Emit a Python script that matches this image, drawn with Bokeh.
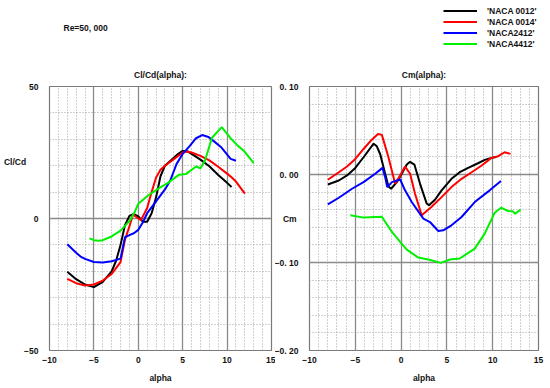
from bokeh.plotting import figure
from bokeh.layouts import row, column
from bokeh.models import FixedTicker, Label, Legend, LegendItem, Range1d
from bokeh.embed import file_html
from bokeh.resources import INLINE

# ---------------- data ----------------
series_names = ["'NACA 0012'", "'NACA 0014'", "'NACA2412'", "'NACA4412'"]
series_colors = ["#000000", "#ff0000", "#0000ff", "#00f000"]
reynolds_text = "Re=50, 000"

# Cl/Cd vs alpha
clcd_0012_alpha = [-8, -7, -6, -5, -4, -3, -2.5, -2, -1.5, -1, -0.5, 0, 0.5, 1, 1.5, 2, 2.5, 3, 3.5, 4, 4.5, 5, 5.5, 6, 7, 8, 9, 10, 10.5]
clcd_0012 = [-20.2, -23, -25, -26, -24, -20, -16, -10, -2.5, 1, 1.7, 0.8, -1.2, -1.2, 2, 8, 16, 20, 21.5, 23, 24.5, 25.6, 25.5, 24.5, 22.3, 19.8, 16.5, 13.5, 11.9]

clcd_0014_alpha = [-8, -7, -6, -5, -4, -3, -2, -1.5, -1, -0.6, 0, 0.3, 1, 1.5, 2, 2.5, 3, 4, 5, 5.5, 6, 7, 8, 9, 10, 10.5, 11, 12]
clcd_0014 = [-22.9, -24.5, -25.4, -25, -23.5, -21, -16.5, -8, -3, 1.5, 0, -0.6, 4, 10, 15.5, 18.5, 20, 22.5, 25, 25.4, 25, 23.7, 22, 19.6, 17, 15.6, 14, 9.4]

clcd_2412_alpha = [-8, -7, -6.5, -6, -5, -4, -3, -2, -1.5, -1, -0.5, 0, 0.5, 1, 2, 3, 3.6, 4.3, 5, 5.8, 6.5, 7.2, 7.9, 8.5, 9.3, 10.4, 11]
clcd_2412 = [-9.75, -13, -14.4, -15.3, -16.5, -16.7, -16.2, -15.2, -7.1, -6.3, -5.6, -4.3, -1.5, 2, 6.5, 11, 14.4, 20.6, 24.5, 27.5, 30.4, 31.6, 30.9, 29.3, 27.1, 22.6, 21.9]

clcd_4412_alpha = [-5.5, -5, -4.5, -4, -3, -2, -1, -0.4, 0, 1.1, 2.2, 3.3, 4.6, 5.4, 6.5, 7, 7.5, 8.3, 9.4, 10.5, 11.2, 11.9, 13]
clcd_4412 = [-7.5, -8.2, -8.4, -8.2, -6.8, -4.6, -1, 2.5, 5.6, 8.7, 11.2, 13.4, 16.6, 16.9, 19.7, 19, 21.9, 30.6, 34.6, 30, 27.6, 25.6, 21]

# Cm vs alpha
cm_0012_alpha = [-8.0, -6.8, -5.9, -5.0, -4.1, -3.0, -2.65, -2.28, -1.74, -1.38, -1.09, -0.47, 0.07, 0.62, 0.98, 1.45, 2.07, 2.79, 3.04, 3.7, 4.42, 5.5, 6.4, 7.32, 8.4, 9.13, 9.86, 10.4]
cm_0012 = [-0.0113, -0.0068, -0.0011, 0.0075, 0.0196, 0.035, 0.032, 0.023, 0.0008, -0.0136, -0.0162, -0.0087, 0.0008, 0.0113, 0.0144, 0.0113, -0.0106, -0.033, -0.035, -0.0287, -0.018, -0.0049, 0.0026, 0.0075, 0.0128, 0.0166, 0.0189, 0.020]

cm_0014_alpha = [-8.0, -6.8, -5.9, -5.0, -4.1, -3.2, -2.52, -2.1, -1.38, -0.65, -0.1, 0.43, 0.98, 1.52, 2.25, 3.3, 4.42, 5.5, 6.6, 7.7, 8.8, 9.86, 10.6, 11.3, 11.95]
cm_0014 = [-0.006, 0.0026, 0.0091, 0.0177, 0.029, 0.0396, 0.046, 0.045, 0.0196, -0.0106, -0.001, 0.0091, 0.0008, -0.0219, -0.0464, -0.037, -0.0257, -0.0143, -0.0049, 0.0026, 0.0102, 0.0189, 0.0208, 0.0253, 0.0234]

cm_2412_alpha = [-8.0, -6.8, -5.36, -4.1, -2.83, -2.03, -1.74, -1.52, -1.0, -0.1, 0.43, 1.16, 2.43, 3.15, 4.06, 4.6, 5.5, 6.6, 8.04, 9.67, 10.9]
cm_2412 = [-0.034, -0.0264, -0.0162, -0.0087, 0.0008, 0.0075, -0.003, -0.0143, -0.0087, -0.0057, -0.018, -0.0313, -0.0502, -0.054, -0.0642, -0.0634, -0.0577, -0.0483, -0.0313, -0.018, -0.0075]

cm_4412_alpha = [-5.54, -4.1, -2.1, -1.0, -0.1, 0.62, 1.88, 2.97, 4.35, 5.33, 6.4, 8.04, 9.13, 10.2, 10.9, 11.67, 12.2, 12.46, 13.04]
cm_4412 = [-0.0464, -0.049, -0.048, -0.0653, -0.0766, -0.0853, -0.0944, -0.0966, -0.1004, -0.0966, -0.0955, -0.0842, -0.0672, -0.0438, -0.0377, -0.0415, -0.0419, -0.0445, -0.04]

x_ticks = [-10, -5, 0, 5, 10, 15]
x_tick_labels = {-10: "\u221210", -5: "\u22125", 0: "0", 5: "5", 10: "10", 15: "15"}
clcd_ticks = [-50, 0, 50]
clcd_tick_labels = {-50: "\u221250", 0: "0", 50: "50"}
cm_ticks = [-0.2, -0.1, 0.0, 0.1]
cm_tick_labels = {-0.2: "\u22120. 20", -0.1: "\u22120. 10", 0.0: "0. 00", 0.1: "0. 10"}

FONT = "Liberation Sans"
TXT = "#111111"
HEADER_H = 52
NAN = float("nan")


def make_fig(title, ylabel, yr, yticks, yminor, ylabels, left_border, right_border,
             bottom_border, ylabel_standoff):
    p = figure(width=275, height=388 - HEADER_H, x_range=Range1d(-10, 15), y_range=Range1d(*yr),
               output_backend="svg", toolbar_location=None, title=title,
               min_border_left=left_border, min_border_right=right_border,
               min_border_top=86 - HEADER_H, min_border_bottom=bottom_border)
    p.title.align = "center"
    p.title.text_font = FONT
    p.title.text_font_size = "8.5px"
    p.title.text_font_style = "bold"
    p.title.text_color = TXT
    p.title.standoff = 13
    p.outline_line_color = "#7a7a7a"
    p.outline_line_width = 1.2
    p.xaxis.ticker = FixedTicker(ticks=x_ticks, minor_ticks=list(range(-10, 16)))
    p.yaxis.ticker = FixedTicker(ticks=yticks, minor_ticks=yminor)
    p.xaxis.major_label_overrides = x_tick_labels
    p.yaxis.major_label_overrides = ylabels
    for ax in (p.xaxis, p.yaxis):
        ax.axis_line_color = None
        ax.major_tick_line_color = None
        ax.minor_tick_line_color = None
        ax.major_label_text_font = FONT
        ax.major_label_text_font_size = "8.5px"
        ax.major_label_text_font_style = "bold"
        ax.major_label_text_color = TXT
        ax.axis_label_text_font = FONT
        ax.axis_label_text_font_size = "8.5px"
        ax.axis_label_text_font_style = "bold"
        ax.axis_label_text_color = TXT
    p.xaxis.major_label_standoff = 0
    p.yaxis.major_label_standoff = 5
    p.xaxis.axis_label = "alpha"
    p.xaxis.axis_label_standoff = 7
    p.yaxis.axis_label = ylabel
    p.yaxis.axis_label_orientation = "horizontal"
    p.yaxis.axis_label_standoff = ylabel_standoff
    p.yaxis.axis_label_text_line_height = 1.14
    for g in (p.xgrid, p.ygrid):
        g.grid_line_color = "#8a8a8a"
        g.grid_line_width = 1.3
        g.minor_grid_line_color = "#a0a0a0"
        g.minor_grid_line_dash = "1 2"
        g.minor_grid_line_width = 1
    return p


# header with Reynolds number and legend
hdr = figure(width=550, height=HEADER_H, x_range=Range1d(0, 550), y_range=Range1d(HEADER_H, 0),
             output_backend="svg", toolbar_location=None, min_border=0,
             x_axis_location=None, y_axis_location=None)
hdr.grid.visible = False
hdr.outline_line_color = None
hdr.add_layout(Label(x=63, y=27, text=reynolds_text, text_font=FONT, text_font_size="8.5px",
                     text_font_style="bold", text_color=TXT, text_baseline="middle"))
# legend proxies (no visible data of their own)
proxies = [hdr.line([NAN, NAN], [NAN, NAN], color=c, line_width=2) for c in series_colors]
legend = Legend(items=[LegendItem(label=n, renderers=[r]) for n, r in zip(series_names, proxies)],
                location=(443, 3), border_line_color=None, background_fill_alpha=0,
                padding=0, margin=0, spacing=0, glyph_width=34, glyph_height=11,
                label_height=11, label_standoff=10, label_text_font=FONT,
                label_text_font_size="8.5px", label_text_font_style="bold",
                label_text_color=TXT)
hdr.add_layout(legend, "center")

# left figure: Cl/Cd
p1 = make_fig("Cl/Cd(alpha):", "Cl/Cd" + "\n" * 10, (-50, 50), clcd_ticks,
              list(range(-50, 51, 10)), clcd_tick_labels, 41, 4, 36, -5)
left_data = [(clcd_0012_alpha, clcd_0012), (clcd_0014_alpha, clcd_0014),
             (clcd_2412_alpha, clcd_2412), (clcd_4412_alpha, clcd_4412)]
for (a, v), c in zip(left_data, series_colors):
    p1.line(a, v, color=c, line_width=2)

# right figure: Cm
cm_minor = [round(-0.2 + 0.02 * i, 2) for i in range(16)]
p2 = make_fig("Cm(alpha):", "Cm", (-0.2, 0.1), cm_ticks, cm_minor, cm_tick_labels,
              34, 12, 38, -25)
right_data = [(cm_0012_alpha, cm_0012), (cm_0014_alpha, cm_0014),
              (cm_2412_alpha, cm_2412), (cm_4412_alpha, cm_4412)]
for (a, v), c in zip(right_data, series_colors):
    p2.line(a, v, color=c, line_width=2)

layout = column(hdr, row(p1, p2))
open("out.html", "w").write(file_html(layout, INLINE))
